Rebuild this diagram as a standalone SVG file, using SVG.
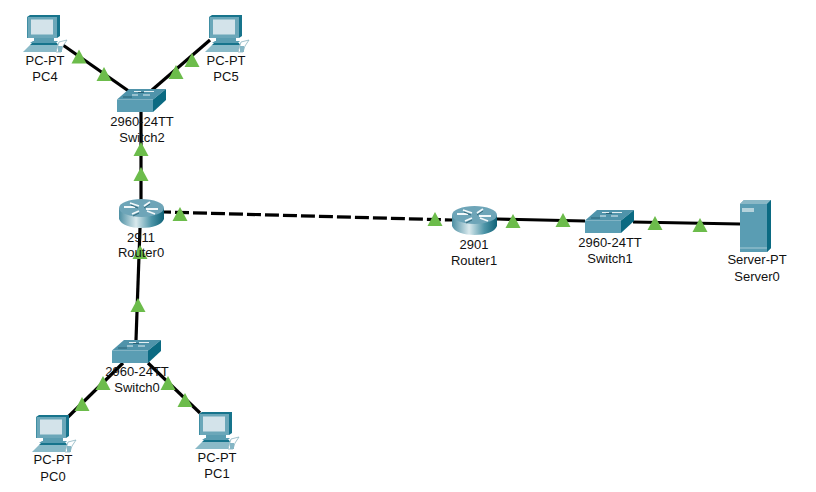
<svg xmlns="http://www.w3.org/2000/svg" width="816" height="492" viewBox="0 0 816 492">
<style>
.l{fill:none;stroke:#000;stroke-width:3.2}
.d{stroke-dasharray:14 4;stroke-dashoffset:7}
.t{fill:#6cbc4b}
text{font-family:"Liberation Sans",Arial,sans-serif;font-size:13px;fill:#111;text-anchor:middle}
</style>
<defs>
<linearGradient id="rg" x1="0" x2="1" y1="0" y2="0"><stop offset="0" stop-color="#4d8fa3"/><stop offset=".38" stop-color="#d9e9ed"/><stop offset=".72" stop-color="#4e95a8"/><stop offset="1" stop-color="#0f6277"/></linearGradient>
<g id="pc">
<path d="M0 2L3 0H33V21L30 23H0Z" fill="#17748c"/>
<rect x="0.500" y="2" width="29.500" height="21" fill="#6ba7b9"/>
<rect x="4" y="4.500" width="22" height="15" fill="#d3e3ea"/>
<path d="M7 23H27V26H31L29 28H3L6 26H7Z" fill="#5a9db1"/>
<path d="M5 28H30L31 30H3Z" fill="#17748c"/>
<path d="M3 30H31L29 37H-4Z" fill="#8abac8"/>
<path d="M32 27L40 25L36 31L34 37H29Z" fill="#fff" stroke="#8ab4c0" stroke-width=".8"/>
<rect x="31" y="31" width="4" height="6" fill="#85b6c5"/>
</g>
<g id="sw">
<path d="M12 0H49L36 10.500H0Z" fill="#4f93aa"/>
<path d="M0 10.500H36V23H0Z" fill="#5a9db3"/>
<path d="M36 10.500L49 0V11L36 23Z" fill="#0b6a82"/>
<path d="M17 2.500H24M27 2.500H37M15 6H21M26 6H33" stroke="#e4f0f3" stroke-width="1.200" fill="none"/>
<path d="M6 8H15M21 3.500H27" stroke="#20566a" stroke-width=".8" fill="none"/>
</g>
<g id="rt">
<path d="M0 9V20C2 26 12 29 22.500 29C33 29 43 26 45 20V9Z" fill="url(#rg)"/>
<ellipse cx="22.500" cy="9" rx="22.500" ry="9" fill="#6ea5b8"/>
<path d="M11 4L20 7M5 8H16M31 3L25 7M27 10H39M20 12L13 15M28 12L36 15" stroke="#f2f8fa" stroke-width="1.800" fill="none"/>
<path d="M12 6L19 9M25 9L31 5M20 14L14 17" stroke="#174e60" stroke-width=".7" fill="none"/>
</g>
<path id="tri" class="t" d="M0 0L7.500 14H-7.500Z"/>
</defs>
<rect width="816" height="492" fill="#fff"/>
<g id="connectors">
<path class="l" d="M60 43L130 92"/>
<path class="l" d="M210 40L152 90"/>
<path class="l" d="M141 110V200"/>
<path class="l d" d="M164 212L452 220"/>
<path class="l" d="M497 219L585 221"/>
<path class="l" d="M633 222L740 224"/>
<path class="l" d="M140 228L136 340"/>
<path class="l" d="M123 363L68 417"/>
<path class="l" d="M148 363L200 413"/>
<use href="#tri" x="79" y="49.500"/><use href="#tri" x="104" y="67"/>
<use href="#tri" x="192" y="53"/><use href="#tri" x="176" y="65"/>
<use href="#tri" x="141" y="142"/><use href="#tri" x="141" y="167"/>
<use href="#tri" x="180" y="207"/><use href="#tri" x="140" y="245"/>
<use href="#tri" x="138" y="298"/>
<use href="#tri" x="103" y="376"/><use href="#tri" x="82" y="397"/>
<use href="#tri" x="168" y="376"/><use href="#tri" x="185" y="393"/>
<use href="#tri" x="435" y="212"/><use href="#tri" x="513" y="214"/>
<use href="#tri" x="563" y="213"/><use href="#tri" x="655" y="216"/>
<use href="#tri" x="700" y="218"/>
</g>
<g id="PC4"><use href="#pc" x="27" y="15"/><text x="45" y="65">PC-PT</text><text x="45" y="81">PC4</text></g>
<g id="PC5"><use href="#pc" x="209" y="15"/><text x="226" y="65">PC-PT</text><text x="226" y="81">PC5</text></g>
<g id="Switch2"><use href="#sw" x="117" y="89"/><text x="142" y="126">2960-24TT</text><text x="142" y="142">Switch2</text></g>
<g id="Router0"><use href="#rt" x="119" y="199"/><text x="141" y="242">2911</text><text x="141" y="257">Router0</text></g>
<g id="Switch0"><use href="#sw" x="112" y="340"/><text x="137" y="376">2960-24TT</text><text x="137" y="392">Switch0</text></g>
<g id="PC0"><use href="#pc" x="36" y="415"/><text x="53" y="464">PC-PT</text><text x="53" y="481">PC0</text></g>
<g id="PC1"><use href="#pc" x="199" y="412"/><text x="217" y="462">PC-PT</text><text x="217" y="478">PC1</text></g>
<g id="Router1"><use href="#rt" x="452" y="206"/><text x="474" y="249">2901</text><text x="474" y="265">Router1</text></g>
<g id="Switch1"><use href="#sw" x="585" y="210"/><text x="610" y="247">2960-24TT</text><text x="610" y="263">Switch1</text></g>
<g id="Server0">
<path d="M740 204L744 200H771V248L767 252H740Z" fill="#5a9db3"/>
<path d="M740 204L744 200H771L767 204Z" fill="#8ab8c6"/>
<path d="M767 204L771 200V248L767 252Z" fill="#0b6a82"/>
<rect x="742" y="208" width="12" height="4" fill="#b5d3dc"/>
<path d="M740 248H767" stroke="#a5cad5"/>
<text x="757" y="264">Server-PT</text><text x="757" y="281">Server0</text>
</g>
</svg>
